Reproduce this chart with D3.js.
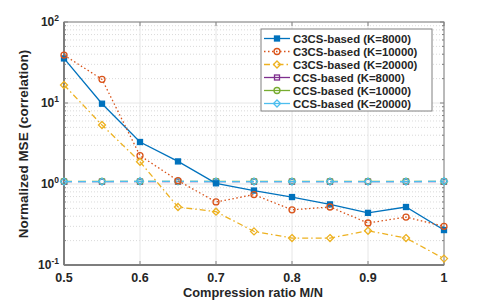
<!DOCTYPE html>
<html>
<head>
<meta charset="utf-8">
<script src="https://cdn.jsdelivr.net/npm/d3@7"></script>
<style>
  body { margin: 0; background: #fff; }
  svg { display: block; font-family: "Liberation Sans", Arial, sans-serif; }
</style>
</head>
<body>
<svg id="chart" width="491" height="300"></svg>
<script>
// compression ratios on the x axis
const ratios = [0.5, 0.55, 0.6, 0.65, 0.7, 0.75, 0.8, 0.85, 0.9, 0.95, 1.0];

// normalized MSE values
const c3cs8000  = [35.5, 9.8, 3.3, 1.9, 1.02, 0.83, 0.69, 0.56, 0.44, 0.52, 0.27];
const c3cs10000 = [39, 19.6, 2.24, 1.1, 0.6, 0.74, 0.48, 0.52, 0.33, 0.39, 0.30];
const c3cs20000 = [16.7, 5.35, 1.88, 0.52, 0.455, 0.26, 0.215, 0.215, 0.265, 0.215, 0.12];
const ccs8000   = [1.07, 1.07, 1.07, 1.07, 1.07, 1.07, 1.07, 1.07, 1.07, 1.07, 1.07];
const ccs10000  = [1.08, 1.08, 1.08, 1.08, 1.08, 1.08, 1.08, 1.08, 1.08, 1.08, 1.08];
const ccs20000  = [1.07, 1.07, 1.08, 1.08, 1.07, 1.07, 1.07, 1.07, 1.07, 1.07, 1.08];

const xTicks = [0.5, 0.6, 0.7, 0.8, 0.9, 1];
const xTickLabels = ["0.5", "0.6", "0.7", "0.8", "0.9", "1"];
const yDecades = [0.1, 1, 10, 100];
const yExponents = ["-1", "0", "1", "2"];

const series = [
  { name: "C3CS-based (K=8000)",  values: c3cs8000,  color: "#0072BD", dash: null,      marker: "square",  fill: true },
  { name: "C3CS-based (K=10000)", values: c3cs10000, color: "#D95319", dash: "1.5,2.5", marker: "circle",  fill: false },
  { name: "C3CS-based (K=20000)", values: c3cs20000, color: "#EDB120", dash: "6,3,1.5,3", marker: "diamond", fill: false },
  { name: "CCS-based (K=8000)",   values: ccs8000,   color: "#7E2F8E", dash: "8,6",     marker: "square",  fill: false },
  { name: "CCS-based (K=10000)",  values: ccs10000,  color: "#77AC30", dash: "8,6",     marker: "circle",  fill: false },
  { name: "CCS-based (K=20000)",  values: ccs20000,  color: "#4DBEEE", dash: "8,6",     marker: "diamond", fill: false }
];

// plot box
const plotL = 64, plotR = 444, plotT = 22, plotB = 265;

const svg = d3.select("#chart");

const x = d3.scaleLinear().domain([0.5, 1]).range([plotL, plotR]);
const y = d3.scaleLog().domain([0.1, 100]).range([plotB, plotT]);

// grid lines
const grid = svg.append("g");
const minorTicks = [];
[0.1, 1, 10].forEach(d => { for (let k = 2; k <= 9; k++) minorTicks.push(d * k); });
grid.selectAll(".minor")
  .data(minorTicks)
  .join("line")
  .attr("x1", plotL).attr("x2", plotR)
  .attr("y1", d => y(d)).attr("y2", d => y(d))
  .attr("stroke", "#d0d0d0")
  .attr("stroke-width", 0.8)
  .attr("stroke-dasharray", "1,2");
grid.selectAll(".majorY")
  .data(yDecades)
  .join("line")
  .attr("x1", plotL).attr("x2", plotR)
  .attr("y1", d => y(d)).attr("y2", d => y(d))
  .attr("stroke", "#e6e6e6");
grid.selectAll(".majorX")
  .data(xTicks)
  .join("line")
  .attr("x1", d => x(d)).attr("x2", d => x(d))
  .attr("y1", plotT).attr("y2", plotB)
  .attr("stroke", "#e6e6e6");

// axis box with ticks on all four sides
const axisColor = "#808080";
svg.append("rect")
  .attr("x", plotL).attr("y", plotT)
  .attr("width", plotR - plotL).attr("height", plotB - plotT)
  .attr("fill", "none")
  .attr("stroke", axisColor)
  .attr("stroke-width", 1);
svg.append("line")
  .attr("x1", plotL).attr("x2", plotL).attr("y1", plotT).attr("y2", plotB)
  .attr("stroke", "#6a6a6a").attr("stroke-width", 1.5);
svg.append("line")
  .attr("x1", plotL).attr("x2", plotR).attr("y1", plotB).attr("y2", plotB)
  .attr("stroke", "#6a6a6a").attr("stroke-width", 1.5);

const ticks = svg.append("g").attr("stroke", axisColor);
xTicks.forEach(t => {
  ticks.append("line").attr("x1", x(t)).attr("x2", x(t)).attr("y1", plotB).attr("y2", plotB - 4);
  ticks.append("line").attr("x1", x(t)).attr("x2", x(t)).attr("y1", plotT).attr("y2", plotT + 4);
});
yDecades.forEach(t => {
  ticks.append("line").attr("x1", plotL).attr("x2", plotL + 4).attr("y1", y(t)).attr("y2", y(t));
  ticks.append("line").attr("x1", plotR).attr("x2", plotR - 4).attr("y1", y(t)).attr("y2", y(t));
});
minorTicks.forEach(t => {
  ticks.append("line").attr("x1", plotL).attr("x2", plotL + 2).attr("y1", y(t)).attr("y2", y(t));
  ticks.append("line").attr("x1", plotR).attr("x2", plotR - 2).attr("y1", y(t)).attr("y2", y(t));
});

// tick labels
svg.append("g").selectAll("text")
  .data(xTicks)
  .join("text")
  .attr("x", d => x(d))
  .attr("y", plotB + 17)
  .attr("text-anchor", "middle")
  .attr("font-size", "12.5px")
  .attr("font-weight", "bold")
  .attr("fill", "#262626")
  .text((d, i) => xTickLabels[i]);

const yLabels = svg.append("g");
yDecades.forEach((d, i) => {
  const t = yLabels.append("text")
    .attr("x", plotL - 5)
    .attr("y", y(d) + 4)
    .attr("text-anchor", "end")
    .attr("font-size", "12px")
    .attr("font-weight", "bold")
    .attr("fill", "#262626");
  t.append("tspan").text("10");
  t.append("tspan").attr("dy", -5).attr("font-size", "8.5px").text(yExponents[i]);
});

// axis titles
svg.append("text")
  .attr("x", 253)
  .attr("y", 297)
  .attr("text-anchor", "middle")
  .attr("font-size", "12.8px")
  .attr("font-weight", "bold")
  .attr("fill", "#262626")
  .text("Compression ratio M/N");
svg.append("text")
  .attr("transform", `translate(28, 144) rotate(-90)`)
  .attr("text-anchor", "middle")
  .attr("font-size", "13.5px")
  .attr("font-weight", "bold")
  .attr("fill", "#262626")
  .text("Normalized MSE (correlation)");

// marker shapes
function drawMarker(sel, s, cx, cy) {
  const fill = s.fill ? s.color : "none";
  if (s.marker === "square") {
    sel.append("rect")
      .attr("x", cx - 2.5).attr("y", cy - 2.5)
      .attr("width", 5).attr("height", 5)
      .attr("fill", fill)
      .attr("stroke", s.color).attr("stroke-width", 1.3);
  } else if (s.marker === "circle") {
    sel.append("circle")
      .attr("cx", cx).attr("cy", cy).attr("r", 3)
      .attr("fill", fill)
      .attr("stroke", s.color).attr("stroke-width", 1.3);
  } else {
    sel.append("path")
      .attr("d", `M${cx},${cy - 3.5}L${cx + 3.5},${cy}L${cx},${cy + 3.5}L${cx - 3.5},${cy}Z`)
      .attr("fill", fill)
      .attr("stroke", s.color).attr("stroke-width", 1.3);
  }
}

const line = d3.line()
  .x((d, i) => x(ratios[i]))
  .y(d => y(d));

// draw CCS lines first, C3CS on top
const drawOrder = [3, 4, 5, 0, 1, 2];
const plot = svg.append("g");
drawOrder.forEach(k => {
  const s = series[k];
  const g = plot.append("g");
  g.append("path")
    .attr("d", line(s.values))
    .attr("fill", "none")
    .attr("stroke", s.color)
    .attr("stroke-width", 1.3)
    .attr("stroke-dasharray", s.dash);
  s.values.forEach((v, i) => drawMarker(g, s, x(ratios[i]), y(v)));
});

// legend
const lg = svg.append("g");
const lgX = 261, lgY = 29, lgW = 171, lgH = 82, rowH = 13;
lg.append("rect")
  .attr("x", lgX).attr("y", lgY)
  .attr("width", lgW).attr("height", lgH)
  .attr("fill", "#fff")
  .attr("stroke", "#808080")
  .attr("stroke-width", 1);
series.forEach((s, i) => {
  const cy = lgY + 9.5 + i * rowH;
  lg.append("line")
    .attr("x1", lgX + 3).attr("x2", lgX + 29)
    .attr("y1", cy).attr("y2", cy)
    .attr("stroke", s.color)
    .attr("stroke-width", 1.3)
    .attr("stroke-dasharray", i < 3 ? s.dash : null);
  drawMarker(lg, s, lgX + 16, cy);
  lg.append("text")
    .attr("x", lgX + 32)
    .attr("y", cy + 4)
    .attr("font-size", "11.4px")
    .attr("font-weight", "bold")
    .attr("fill", "#262626")
    .text(s.name);
});
</script>
</body>
</html>
